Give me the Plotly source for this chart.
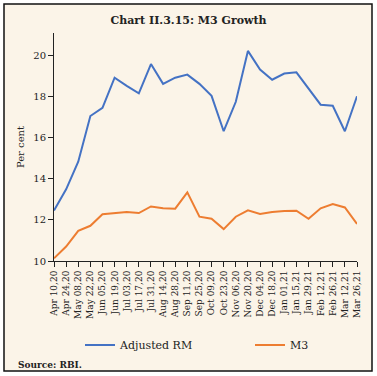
import plotly.graph_objects as go

dates = ["Apr 10,20", "Apr 24,20", "May 08,20", "May 22,20", "Jun 05,20", "Jun 19,20",
         "Jul 03,20", "Jul 17,20", "Jul 31,20", "Aug 14,20", "Aug 28,20", "Sep 11,20",
         "Sep 25,20", "Oct 09,20", "Oct 23,20", "Nov 06,20", "Nov 20,20", "Dec 04,20",
         "Dec 18,20", "Jan 01,21", "Jan 15,21", "Jan 29,21", "Feb 12,21", "Feb 26,21",
         "Mar 12,21", "Mar 26,21"]
adjusted_rm = [12.45, 13.48, 14.82, 17.04, 17.44, 18.9, 18.5, 18.14, 19.56, 18.6, 18.9, 19.05,
               18.6, 18.02, 16.3, 17.73, 20.2, 19.3, 18.8, 19.1, 19.16, 18.4, 17.59, 17.54,
               16.3, 18.0]
m3 = [10.13, 10.7, 11.46, 11.71, 12.27, 12.33, 12.38, 12.33, 12.65, 12.56, 12.54, 13.33,
      12.15, 12.05, 11.55, 12.15, 12.46, 12.28, 12.38, 12.43, 12.44, 12.05, 12.56, 12.77,
      12.6, 11.8]
yticks = [10, 12, 14, 16, 18, 20]

W, H = 377, 376
L, R, T, B = 54, 20, 33, 115
pw, ph = W - L - R, H - T - B

def px(x):
    return (x - L) / pw

def py(y):
    return (H - B - y) / ph

cream = "#FBF4E8"
font = "DejaVu Serif"
txt = "#222222"

fig = go.Figure()
fig.add_trace(go.Scatter(x=dates, y=adjusted_rm, mode="lines", name="Adjusted RM",
                         line=dict(color="#4472C4", width=2), legend="legend"))
fig.add_trace(go.Scatter(x=dates, y=m3, mode="lines", name="M3",
                         line=dict(color="#ED7D31", width=2), legend="legend2"))

leg = dict(orientation="h", xref="container", yref="container",
           xanchor="left", yanchor="middle", bgcolor="rgba(0,0,0,0)",
           font=dict(family=font, size=11, color=txt))

fig.update_layout(
    width=W, height=H,
    margin=dict(l=L, r=R, t=T, b=B, autoexpand=False),
    paper_bgcolor="white",
    plot_bgcolor="rgba(0,0,0,0)",
    font=dict(family=font, size=11, color=txt),
    title=dict(text="<b>Chart II.3.15: M3 Growth</b>", x=0.5, xref="container",
               y=1 - 20 / H, yref="container", xanchor="center", yanchor="middle",
               font=dict(family=font, size=11, color=txt)),
    showlegend=True,
    legend=dict(leg, x=80 / W, y=1 - 345 / H),
    legend2=dict(leg, x=250 / W, y=1 - 345 / H),
    xaxis=dict(type="category", range=[0, len(dates) - 1], showgrid=False,
               showline=True, linecolor=txt, linewidth=1,
               ticks="outside", ticklen=5, tickcolor=txt,
               tickangle=-90, tickfont=dict(family=font, size=9), zeroline=False),
    yaxis=dict(range=[10, 21.07], tickvals=yticks, showgrid=False,
               showline=True, linecolor=txt, linewidth=1,
               ticks="outside", ticklen=5, tickcolor=txt,
               tickfont=dict(family=font, size=10), zeroline=False,
               title=dict(text="Per cent", font=dict(family=font, size=10), standoff=6)),
    shapes=[dict(type="rect", xref="paper", yref="paper",
                 x0=px(4), x1=px(372), y0=py(371), y1=py(4),
                 fillcolor=cream, line=dict(color="#111111", width=1.5), layer="below")],
    annotations=[dict(text="<b>Source: RBI.</b>", xref="paper", yref="paper",
                      x=px(16), y=py(365), xanchor="left", yanchor="middle",
                      showarrow=False, font=dict(family=font, size=9, color=txt))],
)

fig.write_html("out.html", config={"displayModeBar": False},
               post_script="document.body.style.margin='0';document.body.style.padding='0';")
